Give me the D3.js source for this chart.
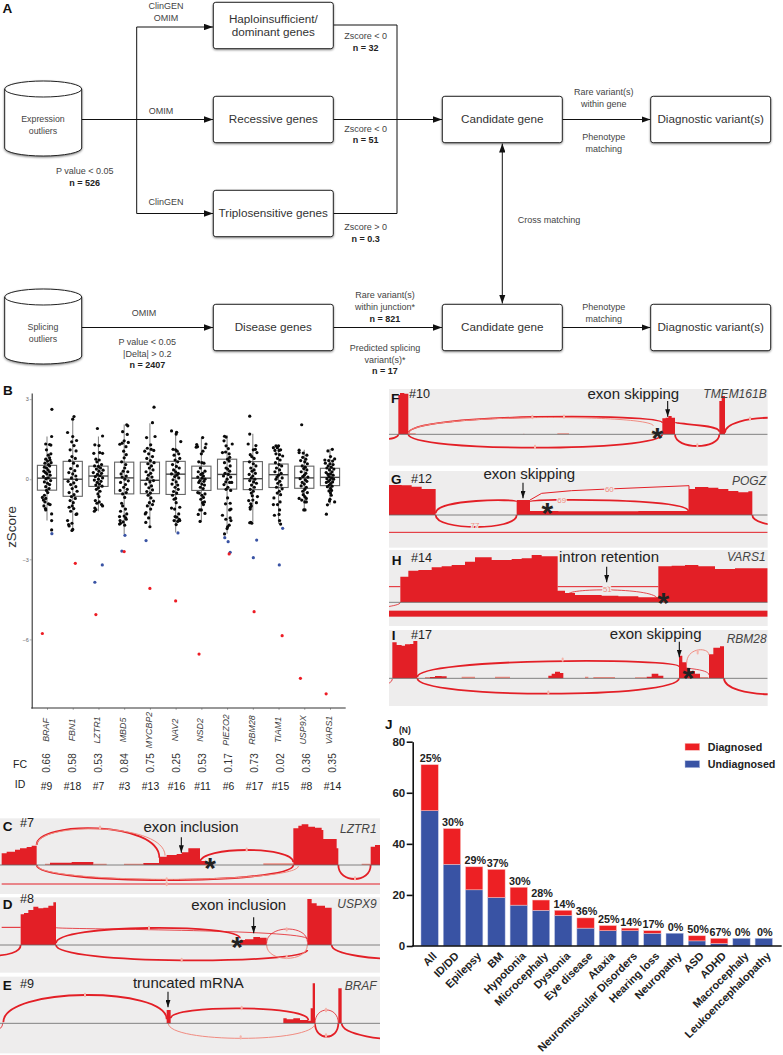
<!DOCTYPE html>
<html>
<head>
<meta charset="utf-8">
<script src="https://cdn.jsdelivr.net/npm/d3@7"></script>
<style>
body { margin: 0; background: #fff; }
svg { display: block; font-family: "Liberation Sans", Arial, sans-serif; }
</style>
</head>
<body>
<div id="figure"></div>
<script>
// Panel B data, jitter in fractions of a category step, then zScore
const genes = ["BRAF", "FBN1", "LZTR1", "MBD5", "MYCBP2", "NAV2", "NSD2", "PIEZO2", "RBM28", "TIAM1", "USP9X", "VARS1"];
const foldChange = ["0.66", "0.58", "0.53", "0.84", "0.75", "0.25", "0.53", "0.17", "0.73", "0.02", "0.36", "0.35"];
const sampleIds = ["#9", "#18", "#7", "#3", "#13", "#16", "#11", "#6", "#17", "#15", "#8", "#14"];
// min, q1, median, q3, max
const boxStats = [
  [-1.55, -0.41, 0.04, 0.52, 1.6], [-1.9, -0.64, 0, 0.67, 2.2], [-1.2, -0.27, 0.12, 0.49, 1.6],
  [-2.05, -0.55, 0.05, 0.64, 2.05], [-1.77, -0.54, -0.04, 0.64, 2.1], [-2, -0.57, 0.19, 0.67, 1.8],
  [-1.6, -0.42, 0.04, 0.49, 1.55], [-2.04, -0.37, 0.18, 0.75, 1.65], [-1.63, -0.39, 0.02, 0.66, 1.7],
  [-1.67, -0.31, 0.17, 0.57, 1.25], [-1.15, -0.34, 0.05, 0.49, 1.1], [-0.96, -0.24, 0.07, 0.41, 1.14]
];
const pointsBRAF = [[.19,2.62],[.18,1.6],[-.05,1.32],[.1,1.3],[.15,1.28],[-.02,1.1],[.15,.95],[.05,.9],[.1,.8],[-.05,.75],[.12,.72],[.02,.68],[.16,.62],[-.08,.6],[.06,.55],[.1,.5],[-.1,.45],[-.02,.42],[.04,.35],[-.12,.3],[.1,.28],[-.06,.25],[0,.2],[.12,.15],[-.14,.1],[.05,.05],[-.04,.02],[.14,-.05],[-.1,-.1],[.02,-.15],[.1,-.2],[-.05,-.28],[.08,-.35],[-.02,-.42],[.03,-.5],[-.1,-.6],[-.18,-.68],[-.05,-.72],[-.14,-.78],[-.08,-.85],[.06,-.92],[.12,-.95],[-.12,-1],[-.06,-1.1],[-.05,-1.15],[.18,-1.3],[.18,-1.55],[.18,-1.9]];
const pointsFBN1 = [[.05,2.35],[0,2.25],[-.2,1.75],[0,1.6],[.15,1.45],[-.04,1.4],[.05,1.26],[-.1,1.1],[.13,1.06],[-.03,.85],[.1,.78],[-.12,.7],[.03,.6],[.18,.5],[-.08,.4],[.08,.32],[-.15,.25],[0,.2],[.12,.12],[-.05,.05],[.15,-.02],[-.18,-.08],[.04,-.14],[-.08,-.2],[.12,-.28],[-.02,-.35],[.17,-.45],[-.14,-.5],[.05,-.58],[-.05,-.65],[.1,-.72],[-.1,-.8],[.02,-.88],[-.02,-1],[-.14,-1.05],[.04,-1.1],[-.08,-1.2],[.16,-1.3],[.13,-1.32],[-.2,-1.55],[-.16,-1.7],[-.03,-1.65],[-.14,-1.75],[0,-1.88],[-.03,-1.92]];
const pointsLZTR1 = [[-.04,1.9],[.16,1.62],[-.14,1.29],[.02,1.26],[.05,1],[-.18,.97],[.16,.97],[-.1,.75],[.03,.72],[-.06,.65],[.12,.55],[-.15,.5],[0,.48],[.08,.42],[-.08,.38],[.18,.34],[.02,.3],[-.2,.25],[.12,.22],[-.04,.18],[.06,.13],[-.12,.1],[.16,.05],[0,0],[-.16,-.03],[.1,-.08],[-.05,-.12],[.04,-.18],[-.1,-.22],[.14,-.26],[0,-.32],[-.08,-.38],[.06,-.45],[-.02,-.55],[.02,-.65],[-.12,-.8],[.03,-.85],[-.06,-.9],[.12,-.95],[-.14,-1.08],[.16,-1],[-.16,-1.2],[-.1,-1.14]];
const pointsMBD5 = [[.1,2.04],[.14,2],[-.06,1.78],[.12,1.68],[0,1.44],[-.17,1.31],[-.08,1.35],[.16,1.38],[.07,1.22],[-.02,1.05],[.08,.92],[0,.8],[-.1,.65],[.06,.55],[.02,.42],[-.04,.3],[.14,.28],[-.12,.2],[.08,.12],[-.08,.08],[.03,0],[.16,-.06],[-.14,-.12],[.05,-.2],[-.02,-.3],[.12,-.38],[-.16,-.42],[.08,-.5],[-.06,-.55],[.02,-.68],[-.1,-.9],[-.06,-1],[.05,-1.12],[-.14,-1.2],[.1,-1.3],[0,-1.38],[-.18,-1.4],[.06,-1.45],[-.16,-1.55],[.08,-1.5],[-.04,-1.6],[-.18,-1.68],[.02,-1.72],[-.14,-1.65]];
const pointsMYCBP2 = [[.16,2.7],[.1,2.12],[-.13,1.56],[.2,1.6],[.03,1.29],[-.1,1.16],[.05,1.12],[-.2,1.05],[.15,1.08],[-.05,.95],[.1,.85],[-.12,.78],[.02,.7],[.16,.62],[-.08,.58],[.06,.5],[-.02,.42],[.12,.35],[-.15,.28],[.03,.22],[-.06,.15],[.08,.08],[-.1,.02],[.14,-.05],[0,-.1],[-.16,-.18],[.06,-.25],[-.04,-.32],[.1,-.4],[-.12,-.46],[.02,-.52],[-.07,-.6],[.04,-.7],[.14,-.82],[-.02,-.88],[.1,-.95],[-.1,-1],[.03,-1.12],[-.15,-1.25],[-.18,-1.3],[-.05,-1.45],[-.16,-1.62],[0,-1.78]];
const pointsNAV2 = [[-.16,1.81],[.04,1.76],[.02,1.69],[.2,1.41],[-.1,1.12],[0,1.1],[.06,1.05],[.12,.95],[-.06,.9],[.16,.78],[-.02,.72],[.08,.65],[-.12,.55],[.03,.48],[.14,.42],[-.08,.35],[0,.28],[.1,.22],[-.16,.2],[.05,.15],[-.04,.1],[.12,.05],[-.1,-.02],[.02,-.1],[-.14,-.18],[.08,-.22],[-.02,-.3],[.1,-.38],[-.08,-.46],[.04,-.52],[-.12,-.6],[0,-.72],[-.06,-.75],[.02,-.88],[-.16,-1.08],[.16,-1.05],[-.04,-1.12],[.12,-1.3],[-.02,-1.4],[.05,-1.42],[.14,-1.5],[.08,-1.58],[.16,-1.55],[-.06,-1.55],[.02,-1.7]];
const pointsNSD2 = [[.05,1.56],[-.18,1.3],[.18,1.32],[-.15,1.22],[-.2,1.2],[.15,1.18],[.06,1.05],[0,.95],[-.1,.65],[.02,.62],[.1,.6],[-.04,.42],[.14,.3],[-.12,.28],[.05,.22],[-.02,.18],[.08,.12],[-.14,.08],[.03,.04],[.14,0],[-.06,-.05],[.1,-.08],[-.1,-.12],[.02,-.18],[.12,-.22],[-.04,-.3],[.07,-.35],[-.14,-.5],[-.08,-.52],[.14,-.55],[.02,-.6],[.08,-.68],[-.02,-.75],[.12,-.85],[.05,-.88],[.08,-.95],[0,-1.15],[-.06,-1.15],[.14,-1.28],[-.12,-1.32],[-.05,-1.58]];
const pointsPIEZO2 = [[-.1,1.61],[-.04,1.58],[.2,1.32],[-.12,1.44],[-.04,1.25],[.05,1.15],[-.18,1],[-.06,1.02],[.08,.95],[.1,.82],[.02,.75],[.08,.68],[-.1,.62],[.12,.5],[-.04,.42],[.02,.38],[.1,.3],[-.08,.22],[.05,.18],[-.14,.12],[.14,.08],[0,0],[-.05,-.1],[.1,-.12],[.18,-.12],[-.12,-.2],[.03,-.3],[-.04,-.38],[.14,-.42],[.02,-.7],[-.06,-.92],[.12,-.9],[.1,-1.15],[.15,-1.12],[-.18,-1.35],[-.05,-1.5],[.12,-1.45],[.15,-1.55],[.08,-1.72],[.02,-1.78],[-.1,-2.05],[0,-1.85]];
const pointsRBM28 = [[-.12,2.36],[-.12,1.69],[-.18,1.32],[.12,1.26],[.1,1.12],[.02,1.1],[.16,1],[-.1,.92],[-.04,.85],[.05,.78],[-.13,.65],[.02,.58],[.12,.5],[-.08,.42],[.05,.35],[-.03,.3],[.1,.22],[-.14,.18],[0,.12],[-.06,.05],[.08,0],[-.12,-.05],[.03,-.1],[.14,-.15],[-.05,-.22],[.06,-.3],[-.1,-.38],[.02,-.45],[-.06,-.52],[-.02,-.62],[.18,-.65],[-.16,-.8],[0,-.78],[-.08,-.92],[.14,-.88],[-.1,-1.05],[-.1,-1.12],[-.06,-1],[-.08,-1.62],[-.12,-1.63],[-.04,-1.65]];
const pointsTIAM1 = [[-.1,1.25],[0,1.25],[-.2,1.18],[-.14,1.08],[-.05,1.18],[.02,1.08],[.08,1.1],[-.1,.95],[.04,.92],[.16,.87],[-.04,.78],[.06,.72],[-.12,.62],[.02,.55],[.12,.5],[-.08,.42],[.04,.35],[-.14,.28],[.1,.22],[0,.15],[-.06,.08],[.14,.05],[-.1,0],[.05,-.08],[-.03,-.15],[.1,-.22],[-.08,-.3],[.14,-.36],[.03,-.45],[-.05,-.52],[.08,-.58],[-.18,-.7],[.06,-.85],[-.04,-.95],[-.2,-.95],[.04,-1.15],[.02,-1.32],[-.16,-1.35],[.04,-1.55],[.08,-1.68]];
const pointsUSP9X = [[-.1,2.04],[-.2,1.09],[-.2,1],[-.04,.98],[.1,.9],[-.06,.82],[.06,.75],[-.14,.7],[.02,.65],[.12,.58],[-.08,.5],[.04,.45],[-.02,.4],[.1,.35],[-.12,.28],[.06,.22],[0,.15],[-.06,.1],[.14,.08],[-.16,.02],[.04,-.02],[.1,-.08],[-.08,-.12],[0,-.18],[-.12,-.25],[.08,-.3],[.02,-.38],[-.06,-.45],[.12,-.5],[-.04,-.58],[.02,-.65],[.08,-.72],[-.2,-.72],[-.1,-.78],[.02,-.85],[.08,-.85],[-.02,-1.15],[.03,-1.15]];
const pointsVARS1 = [[.09,1.12],[-.08,1.06],[.18,.76],[-.2,.72],[.02,.85],[-.05,.7],[.1,.68],[-.18,.6],[.12,.55],[0,.58],[-.07,.5],[.05,.45],[-.12,.42],[.15,.38],[-.02,.35],[.08,.28],[-.15,.25],[.02,.2],[-.08,.18],[.12,.15],[-.04,.1],[.06,.05],[-.12,.02],[.14,0],[0,-.02],[-.06,-.08],[.1,-.1],[-.14,-.12],[.03,-.16],[-.03,-.22],[.08,-.26],[-.1,-.28],[.02,-.34],[.06,-.42],[-.04,-.44],[.02,-.52],[.05,-.6],[0,-.75],[-.02,-.82],[.18,-.85],[-.1,-.96],[-.14,-1.31]];
const genePoints = [pointsBRAF, pointsFBN1, pointsLZTR1, pointsMBD5, pointsMYCBP2, pointsNAV2, pointsNSD2, pointsPIEZO2, pointsRBM28, pointsTIAM1, pointsUSP9X, pointsVARS1];
const redOutliers = [["BRAF",-.18,-5.78],["FBN1",.1,-3.15],["LZTR1",-.1,-5.07],["MBD5",0,-2.71],["MYCBP2",0,-4.09],["NAV2",0,-4.56],["NSD2",-.09,-6.55],["PIEZO2",.08,-2.8],["RBM28",.05,-4.96],["TIAM1",.14,-5.86],["USP9X",-.15,-7.46],["VARS1",-.15,-8.04]];
const blueOutliers = [["BRAF",.19,-2.04],["LZTR1",-.14,-3.86],["LZTR1",.15,-3.21],["MBD5",-.09,-2.69],["MBD5",.03,-2.1],["MYCBP2",-.15,-2.3],["NAV2",.09,-2.01],["PIEZO2",-.09,-2.19],["PIEZO2",.04,-2.34],["PIEZO2",.12,-2.74],["RBM28",.15,-2.28],["RBM28",.02,-2.94],["TIAM1",.16,-1.84],["TIAM1",.03,-3.21]];

// Panel J data
const phenotypes = ["All", "ID/DD", "Epilepsy", "BM", "Hypotonia", "Microcephaly", "Dystonia", "Eye disease", "Ataxia", "Neuromuscular Disorders", "Hearing loss", "Neuropathy", "ASD", "ADHD", "Macrocephaly", "Leukoencephalopathy"];
const undiagnosed = [53, 32, 22, 19, 16, 14, 12, 7, 6, 6, 5, 5, 2, 1, 3, 3];
const diagnosed = [18, 14, 9, 11, 7, 4, 2, 4, 2, 1, 1, 0, 2, 2, 0, 0];
const percentDiagnosed = ["25%", "30%", "29%", "37%", "30%", "28%", "14%", "36%", "25%", "14%", "17%", "0%", "50%", "67%", "0%", "0%"];

// Sashimi tracks. Coverage is [position, height], arcs are [from, h0, to, h1, peak, kind]
const coverageC = [
  [[5,35],[20,40],[45,46],[60,50],[80,54],[95,58],[110,65],[110,0]],
  [[150,7],[215,9],[280,7],[280,0]], [[430,6],[477,10],[477,0]],
  [[477,25],[500,30],[530,33],[545,38],[565,50],[600,52],[600,12],[620,6],[640,0]],
  [[880,110],[895,118],[905,122],[925,115],[945,112],[965,105],[970,78],[1010,50],[1015,0]],
  [[1112,55],[1125,60],[1140,66]]
];
const paleC = [[[135,4],[150,4],[150,0]], [[280,4],[320,4],[320,0]], [[372,4],[430,4],[430,0]], [[790,5],[880,5],[880,0]], [[1085,4],[1112,4],[1112,0]]];
const arcsC = [[110,60,478,22,110,"thick"],[110,60,495,28,108,"pale"],[600,8,880,8,45,"thick"],[110,0,880,0,-45,"thick"],[110,0,895,-3,-43,"pale"],[1015,0,1112,0,-42,"thick"]];
const linesC = [[[5,-57],[1140,-57]]];
const marksC = [[300,112],[740,46],[500,-43],[500,-57],[1065,-40]];

const coverageD = [
  [[62,92],[72,96],[85,105],[100,115],[115,110],[130,112],[145,118],[160,128],[168,135],[168,0]],
  [[720,15],[735,17],[760,24],[780,22],[800,26],[800,0]],
  [[922,138],[935,125],[950,118],[975,112],[995,102],[995,0]]
];
const arcsD = [[168,5,720,20,51,"thick"],[168,52,922,18,44,"thin"],[800,5,922,10,48,"thin"],[168,0,922,-15,-46,"thick"],[800,0,922,0,-40,"pale"],[-100,0,62,0,-32,"thick"],[995,0,1500,0,-44,"thick"]];
const linesD = [[[5,53],[62,53]]];
const marksD = [[447,51],[545,-45],[860,47],[860,-36]];

const coverageE = [
  [[500,40],[512,40],[512,0]],
  [[850,15],[860,12],[880,15],[900,10],[925,8],[932,45],[938,120],[945,120],[945,0]],
  [[1015,105],[1025,105],[1025,0]]
];
const arcsE = [[10,3,500,12,85,"thick"],[512,15,925,10,45,"thick"],[945,0,1015,0,40,"thin"],[945,0,1015,0,-40,"thick"],[505,0,945,0,-45,"pale"],[1025,0,1500,0,-52,"thick"],[-30,-30,8,0,-22,"thin"]];
const marksE = [[255,85],[725,46],[978,40],[978,-36],[722,-42]];

const coverageF = [
  [[40,118],[45,124],[58,122],[70,112],[70,0]],
  [[832,48],[842,50],[850,55],[860,50],[870,46],[870,0]],
  [[1003,100],[1010,115],[1020,95],[1020,0]]
];
const paleF = [[[70,3],[92,3],[92,0]], [[517,3],[552,3],[552,0]], [[415,2],[418,2],[418,0]]];
const arcsF = [[70,3,832,35,52,"thick"],[70,3,805,25,50,"pale"],[870,36,1003,8,28,"thick"],[1020,5,1300,10,50,"thick"],[70,0,832,0,-40,"thick"],[870,0,1003,0,-35,"thick"],[-40,0,40,0,-14,"thick"]];
const marksF = [[442,52],[537,53],[450,-38],[937,-33],[1095,47]];

const coverageG = [
  [[12,90],[50,89],[80,85],[110,78],[152,72],[152,0]],
  [[395,45],[435,45],[435,0]],
  [[435,12],[520,11],[620,11],[760,12],[912,11],[912,0]],
  [[912,78],[930,84],[970,82],[1000,78],[1030,72],[1060,68],[1090,71],[1102,72],[1102,0]]
];
const arcsG = [[152,5,395,40,42,"thick"],[435,40,910,12,44,"thick"],[152,0,395,0,-36,"thick"],[1102,0,1300,-6,-32,"thick"]];
const linesG = [[[435,45],[470,65],[560,73],[670,78],[912,88],[912,12]], [[12,-52],[1148,-52]]];

const coverageH = [
  [[46,77],[70,95],[100,97],[140,105],[170,108],[200,112],[240,122],[270,135],[320,127],[380,130],[410,132],[440,142],[470,138],[518,135],[518,35],[540,28],[570,22],[650,20],[700,18],[760,15],[820,10],[820,108],[860,110],[900,112],[940,108],[990,100],[1050,102],[1148,100],[1148,0]]
];
const arcsH = [[550,24,818,9,37,"thin"],[-40,-30,46,0,-14,"thin"]];
const linesH = [[[12,47],[46,47]], [[518,47],[820,47]]];

const coverageI = [
  [[22,108],[35,100],[50,98],[60,102],[75,103],[85,112],[97,88],[97,0]],
  [[490,8],[500,14],[510,20],[525,16],[535,6],[535,0]], [[135,4],[150,7],[170,6],[185,3],[185,0]], [[785,5],[800,14],[820,8],[835,3],[835,0]],
  [[882,68],[892,48],[905,30],[915,22],[930,14],[945,0]],
  [[972,72],[985,92],[1005,96],[1017,115],[1017,0]]
];
const paleI = [[[120,4],[135,4],[135,0]], [[230,5],[270,5],[270,0]], [[330,5],[375,5],[375,0]], [[600,5],[610,5],[610,0]], [[625,4],[690,4],[690,0]], [[750,3],[785,3],[785,0]], [[945,4],[970,4],[970,0]]];
const arcsI = [[97,4,882,35,51,"thick"],[882,36,972,10,28,"thin"],[905,45,972,70,85,"pale"],[97,0,882,0,-46,"thick"],[1017,0,1300,-8,-48,"thick"],[-30,-30,22,-2,-20,"thin"]];
const marksI = [[533,56],[490,-43],[938,78]];

const W = 783, H = 1055;
const RED = "#e31f26", PALE = "#f08b80", BG = "#eeeded", INK = "#333";

const svg = d3.select("#figure").append("svg").attr("width", W).attr("height", H);
const defs = svg.append("defs");

const addMarker = (id, w, h, orient) => {
  defs.append("marker").attr("id", id)
    .attr("viewBox", `0 0 ${w} ${h}`).attr("refX", w).attr("refY", h / 2)
    .attr("markerWidth", w).attr("markerHeight", h).attr("markerUnits", "userSpaceOnUse")
    .attr("orient", orient)
    .append("path").attr("d", `M0,0L${w},${h / 2}L0,${h}Z`).attr("fill", "#111");
};
addMarker("flowHead", 9, 6.4, "auto-start-reverse");
addMarker("noteHead", 7.5, 5, "auto");

// Panel letters
const panelLetter = (t, x, y) => svg.append("text").attr("x", x).attr("y", y)
  .attr("font-size", 13.5).attr("font-weight", "bold").attr("fill", "#111").text(t);

// ---------- Panel A flow chart ----------
const flow = svg.append("g");

const box = (x, y, lines) => {
  const w = 120, h = 46.4;
  flow.append("rect").attr("x", x).attr("y", y).attr("width", w).attr("height", h).attr("rx", 2.5)
    .attr("fill", "#fff").attr("stroke", "#222").attr("stroke-width", 1)
    .style("filter", "drop-shadow(0 1px 0.8px rgba(0,0,0,.45))");
  lines.forEach((t, i) => {
    const yy = lines.length === 1 ? y + 27 : y + 20.4 + i * 13;
    flow.append("text").attr("x", x + w / 2).attr("y", yy).attr("text-anchor", "middle")
      .attr("font-size", 11.7).attr("fill", "#333").text(t);
  });
};

const cylinder = (top, lines) => {
  const x0 = 4.7, x1 = 81.7, rx = (x1 - x0) / 2, ry = 8, bottom = top + 67;
  flow.append("path")
    .attr("d", `M${x0},${top + ry}A${rx},${ry} 0 0 1 ${x1},${top + ry}V${bottom}A${rx},${ry} 0 0 1 ${x0},${bottom}Z`)
    .attr("fill", "#fff").attr("stroke", "#222").attr("stroke-width", 1)
    .style("filter", "drop-shadow(0 1.2px 1px rgba(0,0,0,.5))");
  flow.append("path").attr("d", `M${x0},${top + ry}A${rx},${ry} 0 0 0 ${x1},${top + ry}`)
    .attr("fill", "none").attr("stroke", "#222").attr("stroke-width", 1);
  lines.forEach((t, i) => flow.append("text").attr("x", 43).attr("y", top + 41 + i * 11.6)
    .attr("text-anchor", "middle").attr("font-size", 8.8).attr("fill", "#444").text(t));
};

const wire = (pts, head, both) => {
  const p = flow.append("path").attr("d", d3.line()(pts)).attr("fill", "none")
    .attr("stroke", "#111").attr("stroke-width", 1);
  if (head) p.attr("marker-end", "url(#flowHead)");
  if (both) p.attr("marker-start", "url(#flowHead)");
};

const note = (t, x, y, bold, anchor) => flow.append("text").attr("x", x).attr("y", y)
  .attr("text-anchor", anchor || "middle").attr("font-size", 9)
  .attr("font-weight", bold ? "bold" : "normal").attr("fill", bold ? "#222" : "#444").text(t);

wire([[81.7, 119.5], [213, 119.5]], true);
wire([[136.7, 27], [136.7, 213.5], [213, 213.5]], true);
wire([[136.7, 27], [213, 27]], true);
wire([[333.3, 25], [397, 25], [397, 213.5], [333.3, 213.5]]);
wire([[333.3, 119.5], [442, 119.5]], true);
wire([[562.3, 119.5], [650.5, 119.5]], true);
wire([[502.3, 143.5], [502.3, 303.5]], true, true);
wire([[81.7, 327.5], [213, 327.5]], true);
wire([[333.3, 327.5], [442, 327.5]], true);
wire([[562.3, 327.5], [650.5, 327.5]], true);

box(213.3, 2.3, ["Haploinsufficient/", "dominant genes"]);
box(213.3, 96.3, ["Recessive genes"]);
box(213.3, 190.3, ["Triplosensitive genes"]);
box(213.3, 304.3, ["Disease genes"]);
box(442.3, 96.3, ["Candidate gene"]);
box(442.3, 304.3, ["Candidate gene"]);
box(650.7, 96.3, ["Diagnostic variant(s)"]);
box(650.7, 304.3, ["Diagnostic variant(s)"]);
cylinder(81, ["Expression", "outliers"]);
cylinder(289, ["Splicing", "outliers"]);

note("ClinGEN", 166, 9); note("OMIM", 166, 21);
note("OMIM", 161, 114); note("ClinGEN", 166, 205);
note("P value < 0.05", 84.7, 174); note("n = 526", 84.7, 185.7, true);
note("Zscore < 0", 365.7, 39); note("n = 32", 365.7, 50.7, true);
note("Zscore < 0", 365.7, 131.7); note("n = 51", 365.7, 143.3, true);
note("Zscore > 0", 365.7, 230); note("n = 0.3", 365.7, 241.7, true);
note("OMIM", 144, 316);
note("P value < 0.05", 147.3, 345); note("|Delta| > 0.2", 147.3, 356.7); note("n = 2407", 147.3, 368.3, true);
note("Rare variant(s)", 385, 298.3); note("within junction*", 385, 310); note("n = 821", 385, 321.7, true);
note("Predicted splicing", 385, 350.7); note("variant(s)*", 385, 362.7); note("n = 17", 385, 374, true);
note("Rare variant(s)", 603.7, 95); note("within gene", 603.7, 107.3);
note("Phenotype", 603.7, 140); note("matching", 603.7, 151.7);
note("Phenotype", 603.7, 310); note("matching", 603.7, 322);
note("Cross matching", 517.7, 222.7, false, "start");
panelLetter("A", 2.5, 12.5);

// ---------- Panel B box plots ----------
panelLetter("B", 3, 395);
const xB = d3.scalePoint().domain(genes).range([47, 330]);
const yB = d3.scaleLinear().domain([3.23, -8.57]).range([393, 708]);
const stepB = xB.step();
const plotB = svg.append("g");

plotB.selectAll("line.whisker").data(boxStats).join("line").attr("class", "whisker")
  .attr("x1", (d, i) => xB(genes[i])).attr("x2", (d, i) => xB(genes[i]))
  .attr("y1", d => yB(d[4])).attr("y2", d => yB(d[0]))
  .attr("stroke", "#888").attr("stroke-width", 1.1);
plotB.selectAll("rect.box").data(boxStats).join("rect").attr("class", "box")
  .attr("x", (d, i) => xB(genes[i]) - 9.6).attr("width", 19.2)
  .attr("y", d => yB(d[3])).attr("height", d => yB(d[1]) - yB(d[3]))
  .attr("fill", "none").attr("stroke", "#666").attr("stroke-width", 1.1);
plotB.selectAll("line.median").data(boxStats).join("line").attr("class", "median")
  .attr("x1", (d, i) => xB(genes[i]) - 9.6).attr("x2", (d, i) => xB(genes[i]) + 9.6)
  .attr("y1", d => yB(d[2])).attr("y2", d => yB(d[2]))
  .attr("stroke", "#444").attr("stroke-width", 1.4);

genePoints.forEach((pts, i) => {
  plotB.append("g").selectAll("circle").data(pts).join("circle")
    .attr("cx", d => xB(genes[i]) + d[0] * stepB).attr("cy", d => yB(d[1]))
    .attr("r", 1.6).attr("fill", "#0a0a0a");
});
const outlierDots = (rows, colour) => plotB.append("g").selectAll("circle").data(rows).join("circle")
  .attr("cx", d => xB(d[0]) + d[1] * stepB).attr("cy", d => yB(d[2]))
  .attr("r", 1.6).attr("fill", colour);
outlierDots(blueOutliers, "#3953a4");
outlierDots(redOutliers, "#ed1c24");

const axisLeftB = plotB.append("g").attr("transform", "translate(31.7,0)")
  .call(d3.axisLeft(yB).tickValues([3, 0, -3, -6]).tickSize(2).tickSizeOuter(0));
axisLeftB.select(".domain").attr("stroke", "#333").attr("stroke-width", 1.1);
axisLeftB.selectAll(".tick line").attr("stroke", "#666").attr("stroke-width", 0.5);
axisLeftB.selectAll(".tick text").attr("font-size", 5.5).attr("font-family", null).attr("fill", "#666").attr("x", -3);

const axisBottomB = plotB.append("g").attr("transform", "translate(0,708)")
  .call(d3.axisBottom(xB).tickSize(2).tickFormat(""));
axisBottomB.select(".domain").remove();
axisBottomB.selectAll(".tick line").attr("stroke", "#666").attr("stroke-width", 0.5);
plotB.append("line").attr("x1", 31.2).attr("x2", 345.7).attr("y1", 708).attr("y2", 708)
  .attr("stroke", "#333").attr("stroke-width", 1.1);

plotB.append("text").attr("transform", "translate(16,527) rotate(-90)").attr("text-anchor", "middle")
  .attr("font-size", 13.4).attr("fill", "#333").text("zScore");

const rowX = d3.scalePoint().domain(genes).range([46.5, 332.5]);
plotB.selectAll("text.gene").data(genes).join("text").attr("class", "gene")
  .attr("transform", d => `translate(${xB(d) + 2},730) rotate(-90)`)
  .attr("text-anchor", "middle").attr("font-size", 8.9).attr("font-style", "italic").attr("fill", "#444").text(d => d);
plotB.selectAll("text.fc").data(foldChange).join("text").attr("class", "fc")
  .attr("transform", (d, i) => `translate(${rowX(genes[i]) + 3.6},763) rotate(-90)`)
  .attr("text-anchor", "middle").attr("font-size", 10).attr("fill", "#333").text(d => d);
plotB.selectAll("text.id").data(sampleIds).join("text").attr("class", "id")
  .attr("x", (d, i) => rowX(genes[i])).attr("y", 790)
  .attr("text-anchor", "middle").attr("font-size", 10.4).attr("fill", "#222").text(d => d);
plotB.append("text").attr("x", 20).attr("y", 767.5).attr("text-anchor", "middle").attr("font-size", 10.5).attr("fill", "#222").text("FC");
plotB.append("text").attr("x", 20).attr("y", 788).attr("text-anchor", "middle").attr("font-size", 10.5).attr("fill", "#222").text("ID");

// ---------- Panels C to I, coordinates in track units ----------
let clipCount = 0;
const sashimi = ({ ox, oy, left, right, top, bottom, base, coverage = [], pale = [], arcs = [], lines = [], marks = [], band }) => {
  const x = d3.scaleLinear().domain([0, 1155]).range([ox, ox + 385]);
  const y = d3.scaleLinear().domain([0, 1155]).range([oy, oy + 385]);
  const hy = h => y(base - h);
  const g = svg.append("g");
  const clipId = "track" + clipCount++;
  defs.append("clipPath").attr("id", clipId).append("rect")
    .attr("x", x(left)).attr("y", y(top)).attr("width", x(right) - x(left)).attr("height", y(bottom) - y(top));
  g.append("rect").attr("x", x(left)).attr("y", y(top)).attr("width", x(right) - x(left)).attr("height", y(bottom) - y(top)).attr("fill", BG);
  const inner = g.append("g").attr("clip-path", `url(#${clipId})`);

  const area = d3.area().x(d => x(d[0])).y0(hy(0)).y1(d => hy(d[1])).curve(d3.curveStepAfter);
  inner.selectAll("path.pale").data(pale).join("path").attr("class", "pale").attr("d", area).attr("fill", PALE);
  inner.selectAll("path.cov").data(coverage).join("path").attr("class", "cov").attr("d", area).attr("fill", RED);

  const arcStyle = { thick: [RED, 1.8], thin: [RED, 0.8], pale: [PALE, 1] };
  const arcD = ([x0, h0, x1, h1, peak]) => {
    const c = (peak - (h0 + h1) / 8) / 0.75;
    const p = d3.path();
    p.moveTo(x(x0), hy(h0));
    p.bezierCurveTo(x(x0), hy(c), x(x1), hy(c), x(x1), hy(h1));
    return p.toString();
  };
  inner.selectAll("path.arc").data(arcs).join("path").attr("class", "arc").attr("d", arcD)
    .attr("fill", "none").attr("stroke", d => arcStyle[d[5]][0]).attr("stroke-width", d => arcStyle[d[5]][1]);

  const lineGen = d3.line().x(d => x(d[0])).y(d => hy(d[1]));
  inner.selectAll("path.seg").data(lines).join("path").attr("class", "seg").attr("d", lineGen)
    .attr("fill", "none").attr("stroke", RED).attr("stroke-width", 1);
  if (band) inner.append("rect").attr("x", x(left)).attr("width", x(right) - x(left))
    .attr("y", hy(band[0])).attr("height", hy(band[1]) - hy(band[0])).attr("fill", RED);

  inner.append("line").attr("x1", x(left)).attr("x2", x(right)).attr("y1", hy(0)).attr("y2", hy(0))
    .attr("stroke", "#666").attr("stroke-width", 0.8);
  inner.selectAll("rect.mark").data(marks).join("rect").attr("class", "mark")
    .attr("x", d => x(d[0]) - 1).attr("y", d => hy(d[1]) - 2.2).attr("width", 2).attr("height", 4.4).attr("rx", 1)
    .attr("fill", "#f5b5ab");

  return {
    letter: (t, px, py) => g.append("text").attr("x", x(px)).attr("y", y(py)).attr("font-size", 13.5).attr("font-weight", "bold").attr("fill", "#111").text(t),
    id: (t, px, py) => g.append("text").attr("x", x(px)).attr("y", y(py)).attr("font-size", 12.6).attr("fill", "#222").text(t),
    gene: (t, px, py) => g.append("text").attr("x", x(px)).attr("y", y(py)).attr("text-anchor", "end").attr("font-size", 12).attr("font-style", "italic").attr("fill", "#444").text(t),
    call: (t, px, py) => g.append("text").attr("x", x(px)).attr("y", y(py)).attr("text-anchor", "middle").attr("font-size", 15).attr("fill", "#222").text(t),
    arrow: (px, y0, y1) => g.append("line").attr("x1", x(px)).attr("x2", x(px)).attr("y1", y(y0)).attr("y2", y(y1))
      .attr("stroke", "#111").attr("stroke-width", 1.1).attr("marker-end", "url(#noteHead)"),
    star: (px, py) => g.append("text").attr("x", x(px)).attr("y", y(py) + 16.5).attr("text-anchor", "middle")
      .attr("font-size", 30).attr("font-weight", "bold").attr("fill", "#222").text("*"),
    count: (t, px, h) => g.append("text").attr("x", x(px)).attr("y", hy(h) + 2.8).attr("text-anchor", "middle")
      .attr("font-size", 8).attr("fill", PALE).attr("stroke", BG).attr("stroke-width", 2).attr("paint-order", "stroke").text(t)
  };
};

const c = sashimi({ ox: 0, oy: 810, left: 0, right: 1140, top: 25, bottom: 252, base: 165, coverage: coverageC, pale: paleC, arcs: arcsC, lines: linesC, marks: marksC });
c.letter("C", 8, 62); c.id("#7", 60, 50); c.gene("LZTR1", 1130, 70); c.call("exon inclusion", 573, 65); c.arrow(544, 82, 128); c.star(630, 155);

const dTrack = sashimi({ ox: 0, oy: 810, left: 0, right: 1140, top: 262, bottom: 488, base: 405, coverage: coverageD, arcs: arcsD, lines: linesD, marks: marksD });
dTrack.letter("D", 8, 298); dTrack.id("#8", 60, 280); dTrack.gene("USPX9", 1130, 293); dTrack.call("exon inclusion", 716, 300); dTrack.arrow(761, 322, 370); dTrack.star(711, 392);

const e = sashimi({ ox: 0, oy: 810, left: 0, right: 1140, top: 500, bottom: 730, base: 640, coverage: coverageE, arcs: arcsE, marks: marksE });
e.letter("E", 8, 540); e.id("#9", 60, 533); e.gene("BRAF", 1130, 540); e.call("truncated mRNA", 565, 535); e.arrow(504, 545, 592);

const f = sashimi({ ox: 385, oy: 385, left: 12, right: 1148, top: 12, bottom: 242, base: 148, coverage: coverageF, pale: paleF, arcs: arcsF, marks: marksF });
f.letter("F", 18, 55); f.id("#10", 72, 38); f.gene("TMEM161B", 1145, 38); f.call("exon skipping", 745, 43); f.arrow(848, 48, 95); f.star(817, 140);

const gTrack = sashimi({ ox: 385, oy: 385, left: 12, right: 1148, top: 258, bottom: 488, base: 390, coverage: coverageG, arcs: arcsG, lines: linesG });
gTrack.letter("G", 18, 298); gTrack.id("#12", 78, 293); gTrack.gene("POGZ", 1143, 300); gTrack.call("exon skipping", 433, 283); gTrack.arrow(414, 293, 340); gTrack.star(487, 365);
gTrack.count("60", 673, 78); gTrack.count("69", 530, 45); gTrack.count("77", 270, -30);

const hTrack = sashimi({ ox: 385, oy: 540, left: 12, right: 1148, top: 30, bottom: 258, base: 187, coverage: coverageH, arcs: arcsH, lines: linesH, band: [-25, -43] });
hTrack.letter("H", 20, 75); hTrack.id("#14", 78, 67); hTrack.gene("VARS1", 1142, 62); hTrack.call("intron retention", 672, 65); hTrack.arrow(665, 80, 127); hTrack.star(835, 170);
hTrack.count("51", 667, 38);

const iTrack = sashimi({ ox: 385, oy: 540, left: 12, right: 1148, top: 270, bottom: 498, base: 415, coverage: coverageI, pale: paleI, arcs: arcsI, marks: marksI });
iTrack.letter("I", 20, 300); iTrack.id("#17", 78, 297); iTrack.gene("RBM28", 1145, 310); iTrack.call("exon skipping", 812, 298); iTrack.arrow(883, 305, 352); iTrack.star(910, 395);

// ---------- Panel J stacked bars ----------
panelLetter("J", 385, 729);
svg.append("text").attr("x", 399).attr("y", 733).attr("font-size", 8.5).attr("font-weight", "bold").attr("fill", "#222").text("(N)");
const xJ = d3.scaleBand().domain(phenotypes).range([418.5, 774.9]).paddingInner(0.223).paddingOuter(0.1115);
const yJ = d3.scaleLinear().domain([0, 80]).range([946, 741.7]);
const stacked = phenotypes.map((p, i) => ({ p, undiagnosed: undiagnosed[i], diagnosed: diagnosed[i] }));
const series = d3.stack().keys(["undiagnosed", "diagnosed"])(stacked);
const barColour = { undiagnosed: "#3953a4", diagnosed: "#ed2024" };
const barEdge = { undiagnosed: "#bcc5e3", diagnosed: "#f9c4c0" };
const plotJ = svg.append("g");
series.forEach(s => {
  plotJ.append("g").selectAll("rect").data(s).join("rect")
    .attr("x", d => xJ(d.data.p)).attr("width", xJ.bandwidth())
    .attr("y", d => yJ(d[1])).attr("height", d => yJ(d[0]) - yJ(d[1]))
    .attr("fill", barColour[s.key]).attr("stroke", barEdge[s.key]).attr("stroke-width", 0.5);
});
plotJ.selectAll("text.pct").data(stacked).join("text").attr("class", "pct")
  .attr("x", d => xJ(d.p) + xJ.bandwidth() / 2 + 1).attr("y", d => yJ(d.undiagnosed + d.diagnosed) - 2.6)
  .attr("text-anchor", "middle").attr("font-size", 10.8).attr("font-weight", "bold").attr("fill", "#222")
  .text((d, i) => percentDiagnosed[i]);

const axisJy = plotJ.append("g").attr("transform", "translate(412.7,0)")
  .call(d3.axisLeft(yJ).tickValues([0, 20, 40, 60, 80]).tickSize(6).tickSizeOuter(0));
axisJy.select(".domain").attr("stroke", "#111").attr("stroke-width", 1.6);
axisJy.selectAll(".tick line").attr("stroke", "#111").attr("stroke-width", 1.6);
axisJy.selectAll(".tick text").attr("font-size", 11.5).attr("font-family", null).attr("font-weight", "bold").attr("fill", "#222").attr("x", -7.5);

const axisJx = plotJ.append("g").attr("transform", "translate(0,946)")
  .call(d3.axisBottom(xJ).tickSize(0));
axisJx.select(".domain").remove();
axisJx.selectAll(".tick text").attr("font-size", 11).attr("font-family", null).attr("font-weight", "bold").attr("fill", "#222")
  .attr("text-anchor", "end").attr("transform", "translate(5,8) rotate(-45)").attr("y", 0).attr("dy", "0.35em");
plotJ.append("line").attr("x1", 411.9).attr("x2", 781.7).attr("y1", 946).attr("y2", 946)
  .attr("stroke", "#111").attr("stroke-width", 1.6);

const legend = plotJ.append("g");
[["Diagnosed", "diagnosed", 743.3], ["Undiagnosed", "undiagnosed", 760.7]].forEach(([label, key, ly]) => {
  legend.append("rect").attr("x", 685).attr("y", ly).attr("width", 14.7).attr("height", 7)
    .attr("fill", barColour[key]).attr("stroke", barEdge[key]).attr("stroke-width", 0.5);
  legend.append("text").attr("x", 707.7).attr("y", ly + 7.3).attr("font-size", 10.7).attr("font-weight", "bold").attr("fill", "#222").text(label);
});
</script>
</body>
</html>
